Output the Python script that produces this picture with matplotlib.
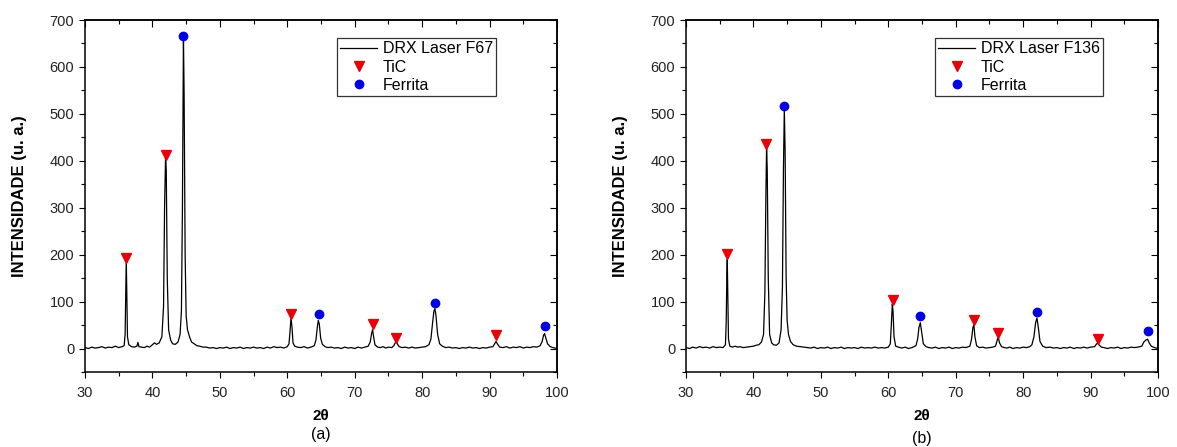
import matplotlib.pyplot as plt
from matplotlib.lines import Line2D
from matplotlib.ticker import MultipleLocator

plt.rcParams['font.family'] = ['Liberation Sans', 'DejaVu Sans']

# ---- panel (a): DRX Laser F67 ----
xa = [30.0, 30.5, 31.0, 31.5, 32.0, 32.5, 33.0, 33.5, 34.0, 34.5, 35.0, 35.5, 35.8,
      35.95, 36.05, 36.12, 36.2, 36.3, 36.5, 36.9, 37.3, 37.7, 37.85, 38.0, 38.4,
      38.8, 39.2, 39.6, 40.0, 40.3, 40.6, 41.0, 41.4, 41.65, 41.8, 41.95, 42.05,
      42.2, 42.4, 42.7, 43.0, 43.4, 43.8, 44.1, 44.3, 44.45, 44.6, 44.7, 44.85,
      45.0, 45.2, 45.5, 45.8, 46.2, 46.6, 47.0, 47.5, 48.0, 48.5, 49.0, 49.5,
      50.0, 50.5, 51.0, 51.5, 52.0, 52.5, 53.0, 53.5, 54.0, 54.5, 55.0, 55.5,
      56.0, 56.5, 57.0, 57.5, 58.0, 58.5, 59.0, 59.5, 60.0, 60.25, 60.4, 60.55,
      60.7, 60.85, 61.1, 61.5, 62.0, 62.5, 63.0, 63.5, 64.0, 64.25, 64.45, 64.6,
      64.75, 64.95, 65.2, 65.6, 66.0, 66.5, 67.0, 67.5, 68.0, 68.5, 69.0, 69.5,
      70.0, 70.5, 71.0, 71.5, 72.0, 72.3, 72.5, 72.65, 72.8, 73.0, 73.4, 73.8,
      74.2, 74.6, 75.0, 75.5, 75.8, 76.0, 76.15, 76.35, 76.6, 77.0, 77.5, 78.0,
      78.5, 79.0, 79.5, 80.0, 80.5, 81.0, 81.3, 81.55, 81.75, 81.9, 82.05, 82.3,
      82.6, 83.0, 83.5, 84.0, 84.5, 85.0, 85.5, 86.0, 86.5, 87.0, 87.5, 88.0,
      88.5, 89.0, 89.5, 90.0, 90.5, 90.75, 90.95, 91.2, 91.5, 92.0, 92.5, 93.0,
      93.5, 94.0, 94.5, 95.0, 95.5, 96.0, 96.5, 97.0, 97.5, 97.8, 98.0, 98.15,
      98.35, 98.6, 99.0, 99.4, 99.7, 100.0]
ya = [2, 0, 3, 1, 2, 4, 1, 3, 2, 5, 2, 4, 6,
      30, 130, 190, 120, 25, 8, 4, 3, 5, 13, 4, 3,
      2, 5, 3, 8, 12, 9, 12, 25, 90, 300, 410, 380,
      150, 40, 18, 10, 9, 14, 30, 80, 300, 665, 540, 200,
      70, 40, 25, 14, 10, 6, 5, 3, 3, 1, 2, 0,
      2, 1, 3, 0, 2, 1, 3, 0, 2, 1, 3, 1,
      2, 0, 3, 1, 4, 2, 3, 1, 4, 10, 35, 66,
      45, 12, 5, 3, 2, 4, 1, 3, 6, 18, 45, 60,
      52, 22, 9, 4, 2, 3, 1, 2, 0, 3, 1, 2,
      0, 3, 1, 3, 5, 14, 32, 40, 25, 8, 3, 2,
      4, 1, 3, 2, 6, 12, 15, 9, 4, 2, 3, 1,
      3, 1, 2, 3, 4, 8, 20, 55, 80, 85, 70, 30,
      10, 5, 2, 3, 1, 2, 0, 2, 1, 3, 1, 2,
      0, 2, 1, 3, 4, 10, 15, 9, 3, 2, 4, 1,
      3, 2, 4, 1, 3, 2, 4, 3, 6, 15, 28, 32,
      22, 10, 4, 2, 1, 0]
tic_xa = [36.1, 41.95, 60.6, 72.65, 76.15, 90.95]
tic_ya = [192, 413, 74, 53, 23, 28]
fer_xa = [44.6, 64.65, 81.95, 98.15]
fer_ya = [666, 73, 96, 47]

# ---- panel (b): DRX Laser F136 ----
xb = [30.0, 30.5, 31.0, 31.5, 32.0, 32.5, 33.0, 33.5, 34.0, 34.5, 35.0, 35.5, 35.85,
      35.97, 36.05, 36.12, 36.2, 36.3, 36.5, 36.9, 37.3, 37.7, 38.0, 38.5, 39.0,
      39.5, 40.0, 40.4, 40.8, 41.2, 41.5, 41.7, 41.85, 41.95, 42.05, 42.2, 42.4,
      42.7, 43.0, 43.4, 43.8, 44.1, 44.3, 44.45, 44.58, 44.7, 44.85, 45.0, 45.2,
      45.5, 45.9, 46.4, 47.0, 47.5, 48.0, 48.5, 49.0, 49.5, 50.0, 50.5, 51.0,
      51.5, 52.0, 52.5, 53.0, 53.5, 54.0, 54.5, 55.0, 55.5, 56.0, 56.5, 57.0,
      57.5, 58.0, 58.5, 59.0, 59.5, 60.0, 60.3, 60.45, 60.6, 60.7, 60.85, 61.1,
      61.5, 62.0, 62.5, 63.0, 63.5, 64.1, 64.35, 64.55, 64.75, 64.95, 65.2, 65.6,
      66.0, 66.5, 67.0, 67.5, 68.0, 68.5, 69.0, 69.5, 70.0, 70.5, 71.0, 71.5,
      72.1, 72.35, 72.55, 72.7, 72.85, 73.1, 73.5, 74.0, 74.5, 75.0, 75.5, 75.9,
      76.1, 76.3, 76.5, 76.8, 77.2, 77.6, 78.0, 78.5, 79.0, 79.5, 80.0, 80.5,
      81.0, 81.3, 81.6, 81.85, 82.05, 82.25, 82.5, 82.9, 83.4, 84.0, 84.5, 85.0,
      85.5, 86.0, 86.5, 87.0, 87.5, 88.0, 88.5, 89.0, 89.5, 90.0, 90.6, 90.85,
      91.05, 91.3, 91.6, 92.0, 92.5, 93.0, 93.5, 94.0, 94.5, 95.0, 95.5, 96.0,
      96.5, 97.0, 97.6, 97.9, 98.2, 98.45, 98.7, 99.0, 99.5, 100.0]
yb = [2, 0, 3, 1, 4, 2, 3, 1, 4, 2, 3, 2, 8,
      60, 150, 190, 110, 20, 5, 3, 5, 3, 4, 2, 3,
      4, 5, 7, 8, 14, 30, 120, 330, 430, 380, 150, 30,
      12, 8, 7, 12, 40, 130, 380, 510, 420, 150, 60, 30,
      15, 8, 5, 4, 3, 2, 1, 3, 0, 2, 1, 3,
      0, 2, 1, 3, 0, 2, 1, 2, 0, 3, 1, 2,
      1, 3, 1, 2, 1, 3, 10, 50, 95, 80, 25, 5,
      3, 1, 3, 0, 2, 6, 20, 45, 55, 35, 10, 4,
      2, 1, 3, 0, 2, 1, 3, 0, 2, 1, 3, 2,
      5, 20, 45, 50, 25, 6, 2, 3, 1, 2, 3, 5,
      15, 25, 12, 4, 2, 1, 3, 0, 2, 1, 3, 2,
      4, 8, 25, 55, 65, 45, 15, 5, 2, 3, 1, 2,
      0, 2, 1, 3, 0, 2, 1, 3, 1, 3, 4, 9,
      12, 7, 3, 2, 0, 2, 1, 3, 0, 2, 1, 3,
      2, 3, 5, 14, 18, 20, 12, 5, 2, 0]
tic_xb = [36.1, 41.9, 60.65, 72.68, 76.23, 91.08]
tic_yb = [202, 436, 104, 60, 33, 21]
fer_xb = [44.6, 64.76, 82.1, 98.5]
fer_yb = [517, 70, 77, 37]

fig = plt.figure(figsize=(11.77, 4.47), dpi=100)
ax1 = fig.add_axes([85 / 1177, 75 / 447, 472 / 1177, 352 / 447])
ax2 = fig.add_axes([686 / 1177, 75 / 447, 472 / 1177, 352 / 447])

red = '#e8000b'
blue = '#0000e0'


def draw_panel(ax, x, y, tx, ty, fx, fy, name, leg_right, tag, tag_y):
    ax.plot(x, y, color='black', linewidth=0.9)
    ax.plot(tx, ty, linestyle='none', marker='v', color=red, markersize=7)
    ax.plot(fx, fy, linestyle='none', marker='o', color=blue, markersize=6)
    ax.set_xlim(30, 100)
    ax.set_ylim(-50, 700)
    ax.xaxis.set_major_locator(MultipleLocator(10))
    ax.xaxis.set_minor_locator(MultipleLocator(5))
    ax.yaxis.set_minor_locator(MultipleLocator(50))
    ax.set_yticks([0, 100, 200, 300, 400, 500, 600, 700])
    ax.tick_params(which='both', direction='out', width=0.8, labelsize=10.5,
                   labelcolor='#222222', top=False, right=False)
    ax.tick_params(which='major', length=4.3)
    ax.tick_params(which='minor', length=2.6)
    ax.tick_params(axis='x', which='major', pad=6)
    ax.tick_params(axis='y', which='major', pad=3.5)

    # inward ticks on the top and right spines
    sec_x = ax.secondary_xaxis('top')
    sec_x.xaxis.set_major_locator(MultipleLocator(10))
    sec_x.xaxis.set_minor_locator(MultipleLocator(5))
    sec_x.tick_params(which='both', direction='in', width=0.8, labeltop=False)
    sec_x.tick_params(which='major', length=5)
    sec_x.tick_params(which='minor', length=3)
    sec_y = ax.secondary_yaxis('right')
    sec_y.yaxis.set_major_locator(MultipleLocator(100))
    sec_y.yaxis.set_minor_locator(MultipleLocator(50))
    sec_y.tick_params(which='both', direction='in', width=0.8, labelright=False)
    sec_y.tick_params(which='major', length=5)
    sec_y.tick_params(which='minor', length=3)
    for s in ax.spines.values():
        s.set_linewidth(1.1)
    sec_x.spines['top'].set_linewidth(1.1)
    sec_y.spines['right'].set_linewidth(1.1)

    ax.set_xlabel('2θ', fontsize=11, fontweight='bold', labelpad=6)
    ax.set_ylabel('INTENSIDADE (u. a.)', fontsize=12, fontweight='bold', labelpad=16)

    handles = [
        Line2D([], [], color='black', linewidth=0.9),
        Line2D([], [], linestyle='none', marker='v', color=red, markersize=7),
        Line2D([], [], linestyle='none', marker='o', color=blue, markersize=6),
    ]
    leg = ax.legend(handles, [name, 'TiC', 'Ferrita'], loc='upper right',
                    bbox_to_anchor=(leg_right, 0.948), borderaxespad=0,
                    fontsize=11.5, frameon=True, fancybox=False,
                    edgecolor='black', handlelength=2.3, handletextpad=0.35,
                    labelspacing=0.2, borderpad=0.2)
    leg.get_frame().set_linewidth(0.9)
    fig.text(ax.get_position().x0 + ax.get_position().width / 2, tag_y, tag,
             ha='center', va='center', fontsize=11.5)


draw_panel(ax1, xa, ya, tic_xa, tic_ya, fer_xa, fer_ya, 'DRX Laser F67', 0.871,
           '(a)', 1 - 435 / 447)
draw_panel(ax2, xb, yb, tic_xb, tic_yb, fer_xb, fer_yb, 'DRX Laser F136', 0.883,
           '(b)', 1 - 439 / 447)

fig.savefig('out.png', dpi=100)
